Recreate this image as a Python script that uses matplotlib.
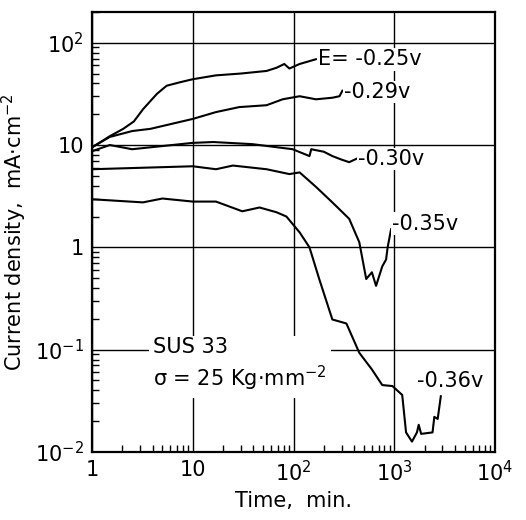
import matplotlib
matplotlib.use("Agg")
import matplotlib.pyplot as plt
from matplotlib.ticker import LogLocator, NullFormatter, FixedLocator

# curves (time in min, current density in mA/cm2)
t_025 = [1, 1.5, 2.04, 2.6, 3.22, 4.4, 5.5, 7.4, 10, 17, 30, 54, 68, 81, 91, 115, 167]
i_025 = [9.5, 12.2, 14.4, 17, 22.5, 31.6, 38, 41, 44, 48, 50, 53, 57, 62, 56, 62, 69]

t_029 = [1, 1.5, 2.5, 3.8, 6, 10, 17, 29, 54, 78, 115, 167, 243, 286, 306]
i_029 = [9.5, 12, 13.7, 14.4, 16, 18, 21, 23.5, 24.5, 28, 30, 28, 29, 30, 34]

t_030 = [1, 1.5, 2.5, 3.8, 10, 16, 39, 54, 98, 144, 150, 200, 243, 300, 357, 430]
i_030 = [8.7, 10, 9.1, 9.5, 10.5, 10.7, 10.2, 9.8, 9.1, 7.8, 9.1, 8.6, 7.8, 7.2, 6.8, 7.4]

t_035 = [1, 10, 17, 25, 54, 91, 115, 167, 243, 357, 450, 527, 600, 660, 760, 830, 860, 930]
i_035 = [5.8, 6.2, 5.8, 6.3, 5.8, 5.2, 5.4, 3.9, 2.75, 1.9, 1.12, 0.49, 0.57, 0.42, 0.65, 0.76, 1.0, 1.5]

t_036 = [1, 3.2, 5.0, 10, 17, 31, 46, 68, 85, 115, 144, 180, 243, 335, 450, 600, 760,
         960, 1200, 1310, 1500, 1680, 1750, 1850, 2400, 2500, 2700, 2900]
i_036 = [2.95, 2.75, 3.0, 2.8, 2.8, 2.25, 2.45, 2.2, 2.0, 1.4, 1.0, 0.49, 0.197, 0.18, 0.093,
         0.064, 0.045, 0.044, 0.036, 0.0155, 0.0126, 0.0155, 0.0184, 0.015, 0.0155, 0.022, 0.021, 0.035]

x_ticks = [1, 10, 100, 1000, 10000]
x_labels = ["1", "10", "10$^2$", "10$^3$", "10$^4$"]
y_ticks = [0.01, 0.1, 1, 10, 100]
y_labels = ["10$^{-2}$", "10$^{-1}$", "1", "10", "10$^2$"]

plt.rcParams['font.family'] = ['DejaVu Sans']
fig = plt.figure(figsize=(5.26, 5.20), dpi=100)
ax = fig.add_axes([0.175, 0.131, 0.766, 0.846])

for t, i in [(t_025, i_025), (t_029, i_029), (t_030, i_030), (t_035, i_035), (t_036, i_036)]:
    ax.plot(t, i, color="black", lw=1.5)

ax.set_xscale("log")
ax.set_yscale("log")
ax.set_xlim(1, 10000)
ax.set_ylim(0.01, 200)

ax.xaxis.set_major_locator(FixedLocator(x_ticks))
ax.set_xticklabels(x_labels, fontsize=15)
ax.yaxis.set_major_locator(FixedLocator(y_ticks))
ax.set_yticklabels(y_labels, fontsize=15)
ax.xaxis.set_minor_locator(LogLocator(base=10, subs=range(2, 10)))
ax.yaxis.set_minor_locator(LogLocator(base=10, subs=range(2, 10)))
ax.xaxis.set_minor_formatter(NullFormatter())
ax.yaxis.set_minor_formatter(NullFormatter())
ax.tick_params(which="both", direction="in", top=False, right=False)
ax.tick_params(which="major", length=0, pad=6)
ax.tick_params(which="minor", length=5, width=1)

ax.grid(True, which="major", color="black", lw=1)
for s in ax.spines.values():
    s.set_linewidth(1.6)

ax.set_xlabel("Time,  min.", fontsize=15)
ax.set_ylabel("Current density,  mA·cm$^{-2}$", fontsize=15)

box = dict(facecolor="white", edgecolor="none", pad=1)
ax.text(175, 69, "E= -0.25v", fontsize=15, va="center", ha="left", bbox=box)
ax.text(320, 33, "-0.29v", fontsize=15, va="center", ha="left", bbox=box)
ax.text(440, 7.3, "-0.30v", fontsize=15, va="center", ha="left", bbox=box)
ax.text(950, 1.7, "-0.35v", fontsize=15, va="center", ha="left", bbox=box)
ax.text(1700, 0.049, "-0.36v", fontsize=15, va="center", ha="left", bbox=box)
ax.text(4.0, 0.07, "SUS 33\nσ = 25 Kg·mm$^{-2}$", fontsize=15, va="center", ha="left",
        linespacing=1.3, bbox=dict(facecolor="white", edgecolor="none", pad=3))

fig.savefig("out.png", dpi=100)
